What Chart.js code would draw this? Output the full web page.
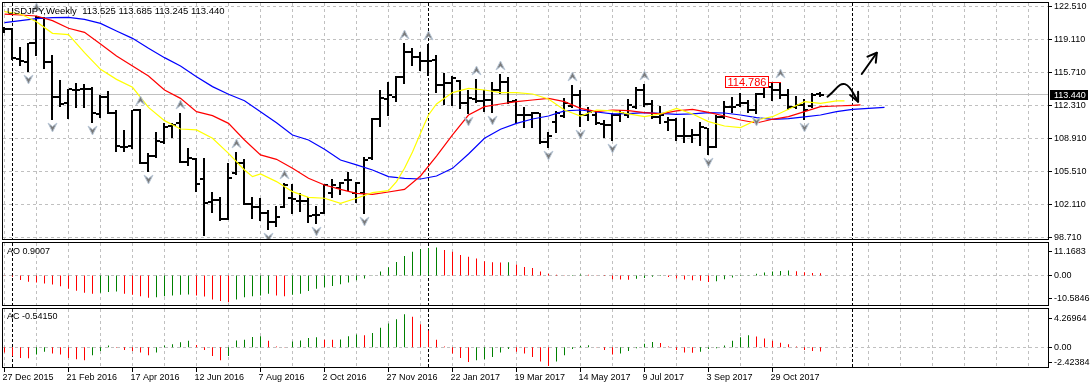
<!DOCTYPE html>
<html>
<head>
<meta charset="utf-8">
<title>USDJPY Weekly</title>
<script src="https://cdn.jsdelivr.net/npm/chart.js@4.4.1/dist/chart.umd.min.js"></script>
<style>
  html, body { margin:0; padding:0; background:#ffffff; }
  #wrap { position:relative; width:1091px; height:383px; overflow:hidden; background:#ffffff; }
  #wrap canvas { position:absolute; left:0; }
</style>
</head>
<body>
<div id="wrap">
  <canvas id="cMain" width="1091" height="243" style="top:0px;width:1091px;height:243px"></canvas>
  <canvas id="cAO" width="1091" height="66" style="top:241px;width:1091px;height:66px"></canvas>
  <canvas id="cAC" width="1091" height="76" style="top:307px;width:1091px;height:76px"></canvas>
</div>
<script>
// ---------------- DATA ----------------
const symbolName = 'USDJPY';
const periodName = 'Weekly';

const dateLabels = ['27 Dec 2015','21 Feb 2016','17 Apr 2016','12 Jun 2016','7 Aug 2016','2 Oct 2016',
  '27 Nov 2016','22 Jan 2017','19 Mar 2017','14 May 2017','9 Jul 2017','3 Sep 2017','29 Oct 2017'];
const dateTickIdx = [0,8,16,24,32,40,48,56,64,72,80,88,96];

const priceTicks = [98.71,102.11,105.51,108.91,112.31,115.71,119.11,122.51];

const opens = [
  120.17,120.17,117.08,116.84,118.73,121.31,116.84,113.23,112.54,113.91,
  113.98,113.98,111.44,113.16,111.57,108.07,108.14,111.85,106.35,107.10,
  108.58,110.20,110.47,106.52,106.76,104.73,102.39,102.56,100.64,105.32,
  106.35,102.15,101.81,101.19,100.33,101.88,102.74,102.50,102.46,101.02,
  101.26,103.25,103.77,104.63,103.25,103.25,106.86,110.92,112.95,113.23,
  115.29,117.87,117.28,116.94,117.01,114.43,114.60,114.84,112.54,112.95,
  112.81,112.88,113.91,114.77,112.81,111.33,111.33,111.51,108.58,110.65,
  111.23,112.26,113.40,111.33,111.33,110.41,110.30,111.33,111.33,112.12,
  113.91,112.43,111.16,110.65,110.82,109.17,109.17,109.27,109.96,108.07,
  111.09,112.12,112.37,112.54,111.85,113.50,114.26,113.91,113.40,112.19,
  112.37,112.26,113.525];
const highs = [
  120.45,120.28,118.38,118.80,121.55,121.48,117.52,114.94,113.98,114.60,
  114.53,114.19,113.40,113.81,111.85,109.79,111.85,111.92,107.45,109.55,
  110.54,110.54,111.51,107.89,106.86,106.86,103.42,102.84,106.35,107.55,
  106.76,102.84,102.77,101.53,101.98,104.35,104.21,103.32,102.84,101.95,
  104.18,104.70,104.39,105.49,104.46,107.03,110.99,113.91,114.77,115.36,
  118.73,118.21,117.87,118.66,117.52,115.70,115.36,114.94,113.91,115.08,
  113.91,114.77,115.56,115.22,112.95,112.12,111.68,111.57,109.61,111.78,
  113.05,114.43,113.91,112.19,111.68,110.82,111.51,111.85,112.98,114.19,
  114.53,112.88,112.26,111.16,110.99,110.99,109.86,110.65,109.99,111.33,
  112.81,113.23,113.57,112.88,113.57,114.77,114.60,114.786,113.98,113.29,
  112.95,113.57,113.685];
const lows = [
  119.90,117.15,116.49,115.91,117.52,116.15,110.92,112.26,111.06,112.12,
  112.12,110.65,111.16,111.57,107.65,107.65,107.89,106.35,105.59,107.03,
  108.48,109.10,106.52,106.18,103.53,98.95,101.36,100.50,100.60,105.25,
  102.15,100.67,100.50,99.54,99.88,101.81,101.19,101.46,100.26,100.16,
  101.20,102.91,103.18,103.60,102.39,101.19,106.76,110.20,111.33,112.81,
  114.67,116.49,115.98,115.46,113.74,112.47,112.37,112.02,111.57,112.71,
  111.75,111.68,113.57,112.61,110.54,110.13,110.13,108.48,108.07,109.61,
  111.16,112.19,110.20,110.82,110.41,109.10,108.75,110.75,111.09,112.02,
  112.26,110.99,110.54,109.79,108.75,108.58,108.58,108.24,107.31,108.02,
  110.99,111.68,112.26,111.68,111.51,113.23,112.88,113.05,111.92,112.02,
  110.89,112.19,113.245];
const closes = [
  120.17,117.18,116.90,118.73,121.31,116.84,113.16,112.47,113.98,113.91,
  113.98,111.51,113.16,111.57,108.14,108.07,111.85,106.35,107.10,108.69,
  110.13,110.30,106.52,106.86,104.21,102.29,102.56,100.57,104.80,106.35,
  102.15,101.81,101.19,100.33,100.84,104.11,102.63,102.46,100.91,101.02,
  104.11,104.11,104.35,104.63,104.35,106.69,110.92,113.05,113.40,115.29,
  117.87,117.28,116.94,116.94,114.43,114.67,115.12,112.54,113.05,112.78,
  112.88,113.91,114.77,112.64,111.33,111.33,111.51,108.58,109.17,111.51,
  112.54,113.40,111.33,111.68,110.47,110.30,111.33,111.51,112.37,113.91,
  112.47,111.16,111.33,110.82,109.17,109.17,109.27,110.06,108.07,111.16,
  112.12,112.12,112.54,111.85,113.47,114.19,113.91,113.40,112.19,112.37,
  111.85,113.40,113.44];

const lipsIdx = [0,2,4,6,8,10,12,14,16,18,20,22,24,26,28,30,31,32,34,36,38,40,42,44,46,48,49,50,51,52,53,54,
  56,58,60,62,64,66,68,70,72,74,76,78,80,82,84,86,88,90,92,94,96,98,100,102,104,105];
const lipsVal = [121.99,121.75,120.96,119.76,119.62,117.76,116.04,115.01,114.19,112.12,110.75,109.89,109.79,108.93,
  107.38,105.66,104.97,105.25,104.46,103.42,102.84,102.74,102.22,102.74,103.32,103.53,104.46,105.83,107.52,109.44,
  111.33,112.47,113.64,114.08,113.91,113.64,113.64,113.50,112.98,111.85,111.23,111.85,111.75,111.44,111.16,111.44,
  112.02,111.44,110.65,110.20,110.03,110.82,111.16,111.92,112.71,112.54,112.78,112.78];
const teethIdx = [0,2,4,6,8,10,12,14,16,18,20,22,24,26,28,30,32,34,36,38,40,42,44,46,48,50,52,54,56,58,
  60,62,64,66,68,70,72,74,76,78,80,82,84,86,88,90,92,94,96,98,100,102,104,106,107];
const teethVal = [121.75,121.65,121.55,121.07,120.28,119.86,118.66,117.42,116.39,115.36,
  113.91,113.05,111.68,111.27,110.47,108.75,107.21,106.76,105.83,104.80,
  104.11,103.66,103.25,103.15,103.39,103.66,105.04,107.10,109.27,111.33,
  112.19,112.47,112.71,112.88,113.05,112.71,112.02,111.68,111.85,111.78,
  111.57,111.44,111.75,111.92,111.61,111.23,110.82,110.51,110.89,111.16,
  111.68,112.19,112.26,112.33,112.37];
const jawIdx = [0,2,4,6,8,10,12,14,16,18,20,22,24,26,28,30,32,34,36,38,40,42,44,46,48,50,52,54,56,58,
  60,62,64,66,68,70,72,74,76,78,80,82,84,86,88,90,92,94,96,98,100,102,104,106,108,110];
const jawVal = [120.86,121.07,121.27,121.38,121.41,121.20,120.79,120.00,119.24,118.21,
  117.25,116.39,115.29,114.26,113.47,112.81,111.68,110.54,109.27,108.75,
  107.79,106.69,106.18,105.66,104.97,104.80,104.73,105.04,105.83,107.31,
  108.93,109.86,110.47,110.92,111.23,111.75,111.85,111.64,111.44,111.47,
  111.57,111.51,111.40,111.44,111.57,111.54,111.33,111.06,110.89,110.96,
  111.13,111.33,111.68,111.92,112.02,112.12];

const upFractalIdx = [4,17,22,29,35,50,53,59,62,71,80,97];
const downFractalIdx = [3,6,11,18,25,33,39,45,58,61,68,72,76,88,94,100];
const separatorIdx = [1,53,106];
const markedHighIdx = 97;

const aoValues = [
  -0.10,-0.41,-1.77,-2.45,-2.72,-3.13,-3.54,-4.22,-5.18,-5.99,
  -6.81,-7.22,-6.81,-6.54,-6.30,-7.20,-7.60,-8.20,-8.80,-8.60,
  -8.20,-7.90,-7.60,-7.50,-7.90,-8.30,-9.50,-10.10,-10.5846,-9.50,
  -8.60,-8.20,-7.90,-7.20,-7.90,-8.20,-7.60,-7.20,-6.10,-5.20,
  -4.60,-4.10,-3.40,-2.70,-1.80,-1.10,0.10,1.60,3.30,5.40,
  7.80,9.40,10.50,10.90,11.1683,10.10,9.40,8.20,7.50,6.80,
  5.70,5.30,5.20,5.30,4.40,3.40,3.00,1.60,0.70,0.30,
  0.10,0.20,0.40,0.30,0.10,-0.20,-1.40,-1.50,-1.60,-1.20,
  -0.90,-0.50,-0.20,-0.60,-1.10,-1.50,-1.80,-2.00,-2.50,-2.20,
  -1.40,-0.80,-0.20,0.10,0.70,1.20,1.60,1.80,2.00,1.70,
  1.30,1.00,0.9007];
const acValues = [
  -0.66,-1.11,-1.37,-1.42,-0.93,-0.58,-0.80,-0.93,-1.37,-1.55,
  -1.68,-1.02,-0.49,0.22,-0.05,-0.35,-0.49,-0.66,-1.02,-0.66,
  0.22,0.40,0.66,0.84,0.31,-0.35,-1.11,-1.68,-1.11,0.89,
  0.97,1.33,1.42,0.84,0.09,-0.04,0.75,0.89,1.20,1.29,
  0.97,0.96,1.00,1.42,1.64,1.55,1.86,2.53,3.06,3.63,
  4.26964,3.94,2.97,2.17,0.98,0.09,-0.80,-1.37,-1.90,-1.68,
  -1.55,-1.24,-0.66,-0.22,-0.58,-0.80,-1.24,-1.82,-2.42384,-1.84,
  -1.03,-0.22,0.18,0.27,-0.04,-0.36,-0.94,-0.81,-0.49,-0.13,
  0.45,0.67,0.54,0.09,-0.36,-0.67,-0.70,-0.58,-0.22,-0.13,
  0.22,0.85,1.30,1.57,1.39,1.12,0.85,0.58,0.40,0.09,
  -0.36,-0.49,-0.5415];

// hand-drawn annotation strokes, in (bar index, price) units
const curveArrow = [[102.87,113.22],[103.50,113.64],[104.12,114.26],[104.75,114.60],[105.37,114.43],[105.87,113.91],[106.29,113.29],[106.70,112.71]];
const curveArrowHead = [[105.70,113.40],[106.70,112.71],[106.70,113.74]];
const straightArrow = [[107.16,115.56],[109.04,117.76]];
const straightArrowHead = [[107.87,117.35],[109.04,117.76],[108.91,116.73]];

// ---------------- LAYOUT / STYLE ----------------
const X_MIN = -0.3125, X_MAX = 130.5625;
const GRID_STEP = 4;
const AXIS_W = 42;
const FONT = "9px 'Liberation Sans', Arial, sans-serif";
const TITLE_FONT = "9.5px 'Liberation Sans', Arial, sans-serif";
const C_GRID = '#c0c0c0', C_UP = '#008000', C_DOWN = '#ff0000';

Chart.defaults.font.family = "'Liberation Sans', Arial, sans-serif";
Chart.defaults.font.size = 9;
Chart.defaults.color = '#000000';
Chart.defaults.animation = false;

function crisp(v){ return Math.floor(v) + 0.5; }

function clipArea(chart){
  const a = chart.chartArea, c = chart.ctx;
  c.beginPath(); c.rect(a.left, a.top, a.right - a.left, a.bottom - a.top); c.clip();
}
function vGrid(chart){
  const c = chart.ctx, a = chart.chartArea, xs = chart.scales.x;
  c.save(); c.strokeStyle = C_GRID; c.lineWidth = 1; c.setLineDash([3,3]);
  for (let k = 0; k <= X_MAX; k += GRID_STEP){
    const x = crisp(xs.getPixelForValue(k));
    if (x <= a.left + 1 || x >= a.right - 1) continue;
    c.beginPath(); c.moveTo(x, a.top + 1); c.lineTo(x, a.bottom - 1); c.stroke();
  }
  c.restore();
}
function hGrid(chart, vals){
  const c = chart.ctx, a = chart.chartArea, ys = chart.scales.y;
  c.save(); c.strokeStyle = C_GRID; c.lineWidth = 1; c.setLineDash([3,3]);
  vals.forEach(v => {
    const y = crisp(ys.getPixelForValue(v));
    if (y <= a.top + 1 || y >= a.bottom - 1) return;
    c.beginPath(); c.moveTo(a.left + 1, y); c.lineTo(a.right - 1, y); c.stroke();
  });
  c.restore();
}
function separators(chart){
  const c = chart.ctx, a = chart.chartArea, xs = chart.scales.x;
  c.save(); c.strokeStyle = '#000'; c.lineWidth = 1; c.setLineDash([3,2]);
  separatorIdx.forEach(k => {
    const x = crisp(xs.getPixelForValue(k));
    c.beginPath(); c.moveTo(x, a.top + 1); c.lineTo(x, a.bottom - 1); c.stroke();
  });
  c.restore();
}
function frame(chart){
  const c = chart.ctx, a = chart.chartArea;
  c.save(); c.strokeStyle = '#000'; c.lineWidth = 1; c.setLineDash([]);
  c.strokeRect(a.left + 0.5, a.top + 0.5, a.right - a.left - 1, a.bottom - a.top - 1);
  c.restore();
}
function strokePts(c, pts, xs, ys, smooth){
  const p = pts.map(q => [xs.getPixelForValue(q[0]), ys.getPixelForValue(q[1])]);
  c.beginPath(); c.moveTo(p[0][0], p[0][1]);
  if (smooth){
    for (let i = 1; i < p.length - 1; i++){
      const mx = (p[i][0] + p[i+1][0]) / 2, my = (p[i][1] + p[i+1][1]) / 2;
      c.quadraticCurveTo(p[i][0], p[i][1], mx, my);
    }
    c.lineTo(p[p.length-1][0], p[p.length-1][1]);
  } else {
    for (let i = 1; i < p.length; i++) c.lineTo(p[i][0], p[i][1]);
  }
  c.stroke();
}
function drawFractal(c, x, yTip, dir){
  const w = 4.5, h = 9, n = 3.5;
  c.beginPath();
  c.moveTo(x, yTip);
  c.lineTo(x + w, yTip - dir * h);
  c.lineTo(x, yTip - dir * (h - n));
  c.lineTo(x - w, yTip - dir * h);
  c.closePath();
  c.fillStyle = '#7a7a7a'; c.fill();
  c.strokeStyle = '#b7c6d6'; c.lineWidth = 1; c.stroke();
}

const hiddenX = () => ({ type:'linear', min:X_MIN, max:X_MAX, display:false, offset:false,
  grid:{display:false, drawTicks:false, offset:false}, border:{display:false} });

function fixY(s){ s.width = AXIS_W; s.paddingTop = 0; s.paddingBottom = 0; }

// ---------------- MAIN PANEL ----------------
const mainPlugin = {
  id: 'mainPanel',
  beforeDatasetsDraw(chart){
    const c = chart.ctx, a = chart.chartArea, xs = chart.scales.x, ys = chart.scales.y;
    c.save(); clipArea(chart);
    vGrid(chart); hGrid(chart, priceTicks);
    const last = closes.length - 1;
    const py = crisp(ys.getPixelForValue(closes[last]));
    c.strokeStyle = C_GRID; c.lineWidth = 1; c.setLineDash([]);
    c.beginPath(); c.moveTo(a.left, py); c.lineTo(a.right, py); c.stroke();
    separators(chart);
    c.fillStyle = '#000';
    for (let i = 0; i < opens.length; i++){
      const cx = Math.floor(xs.getPixelForValue(i));
      const yh = Math.round(ys.getPixelForValue(highs[i]));
      const yl = Math.round(ys.getPixelForValue(lows[i]));
      const yo = Math.round(ys.getPixelForValue(opens[i]));
      const yc = Math.round(ys.getPixelForValue(closes[i]));
      c.fillRect(cx - 1, yh, 2, Math.max(2, yl - yh + 1));
      c.fillRect(cx - 4, yo - 1, 3, 2);
      c.fillRect(cx + 1, yc - 1, 3, 2);
    }
    c.restore();
  },
  afterDatasetsDraw(chart){
    const c = chart.ctx, a = chart.chartArea, xs = chart.scales.x, ys = chart.scales.y;
    c.save(); clipArea(chart);
    upFractalIdx.forEach(k => drawFractal(c, Math.floor(xs.getPixelForValue(k)) + 0.5, Math.round(ys.getPixelForValue(highs[k])) - 13, -1));
    downFractalIdx.forEach(k => drawFractal(c, Math.floor(xs.getPixelForValue(k)) + 0.5, Math.round(ys.getPixelForValue(lows[k])) + 13, 1));

    // marked high label
    const mk = markedHighIdx, mv = highs[mk];
    const mx = Math.floor(xs.getPixelForValue(mk)), my = Math.round(ys.getPixelForValue(mv));
    c.font = "11px 'Liberation Sans', Arial, sans-serif";
    const mt = mv.toFixed(3), mw = Math.ceil(c.measureText(mt).width) + 5;
    const bxR = mx - 11, bxL = bxR - mw;
    c.fillStyle = '#ffffff'; c.fillRect(bxL, my - 6, mw, 12);
    c.strokeStyle = '#ff0000'; c.lineWidth = 1; c.setLineDash([]);
    c.strokeRect(bxL + 0.5, my - 5.5, mw - 1, 11);
    c.beginPath(); c.moveTo(bxR, my + 0.5); c.lineTo(mx + 1, my + 0.5); c.stroke();
    c.fillStyle = '#ff0000'; c.textAlign = 'left'; c.textBaseline = 'middle';
    c.fillText(mt, bxL + 2.5, my + 0.5);

    // hand-drawn arrows
    c.strokeStyle = '#000'; c.lineWidth = 2; c.lineCap = 'round'; c.lineJoin = 'round';
    strokePts(c, curveArrow, xs, ys, true);
    strokePts(c, curveArrowHead, xs, ys, false);
    strokePts(c, straightArrow, xs, ys, false);
    strokePts(c, straightArrowHead, xs, ys, false);
    c.restore();

    frame(chart);

    c.save();
    c.font = TITLE_FONT; c.fillStyle = '#000'; c.textAlign = 'left'; c.textBaseline = 'middle';
    const last = closes.length - 1;
    const title = symbolName + ',' + periodName + '  ' + opens[last].toFixed(3) + ' ' + highs[last].toFixed(3) + ' ' +
      lows[last].toFixed(3) + ' ' + closes[last].toFixed(3);
    c.fillText(title, a.left + 5, a.top + 9);
    c.font = FONT;
    c.strokeStyle = '#000'; c.lineWidth = 1;
    priceTicks.forEach(v => { const y = crisp(ys.getPixelForValue(v)); c.beginPath(); c.moveTo(a.right, y); c.lineTo(a.right + 3, y); c.stroke(); });
    const ty = ys.getPixelForValue(closes[last]);
    c.fillStyle = '#000'; c.fillRect(a.right + 1, Math.round(ty) - 5, 38, 10);
    c.fillStyle = '#fff'; c.fillText(closes[last].toFixed(3), a.right + 5, Math.round(ty) + 0.5);
    c.restore();
  }
};

new Chart(document.getElementById('cMain'), {
  type: 'line',
  data: { datasets: [
    { label:'Lips', data: lipsIdx.map((k,i)=>({x:k, y:lipsVal[i]})), borderColor:'#ffff00', borderWidth:1.2, pointRadius:0, tension:0, fill:false },
    { label:'Teeth', data: teethIdx.map((k,i)=>({x:k, y:teethVal[i]})), borderColor:'#ff0000', borderWidth:1.2, pointRadius:0, tension:0, fill:false },
    { label:'Jaw', data: jawIdx.map((k,i)=>({x:k, y:jawVal[i]})), borderColor:'#0000ff', borderWidth:1.2, pointRadius:0, tension:0, fill:false }
  ]},
  options: {
    responsive:false, maintainAspectRatio:false, devicePixelRatio:1, animation:false, events:[],
    layout:{ padding:{ left:2, right:0, top:2, bottom:3 } },
    plugins:{ legend:{display:false}, tooltip:{enabled:false} },
    scales:{
      x: hiddenX(),
      y: { type:'linear', position:'right', min:98.4345, max:122.992,
        grid:{display:false, drawTicks:false}, border:{display:false},
        afterBuildTicks: s => { s.ticks = priceTicks.map(v => ({value:v})); },
        afterFit: fixY,
        ticks:{ padding:5, color:'#000', autoSkip:false, font:{size:9}, callback: v => Number(v).toFixed(3) } }
    }
  },
  plugins:[mainPlugin]
});

// ---------------- OSCILLATOR PANELS ----------------
function makeSubPlugin(values, name, decimals, titleDy, isBottom){
  return {
    id: 'sub' + name,
    beforeDatasetsDraw(chart){
      const c = chart.ctx;
      c.save(); clipArea(chart);
      vGrid(chart); hGrid(chart, [0]); separators(chart);
      c.restore();
    },
    afterDatasetsDraw(chart){
      frame(chart);
      const c = chart.ctx, a = chart.chartArea, ys = chart.scales.y, xs = chart.scales.x;
      c.save();
      c.font = FONT; c.fillStyle = '#000'; c.textAlign = 'left'; c.textBaseline = 'middle';
      c.fillText(name + ' ' + values[values.length - 1].toFixed(decimals), a.left + 5, a.top + titleDy);
      const vmax = Math.max(...values), vmin = Math.min(...values);
      const labs = [
        [ys.getPixelForValue(vmax) + 4.5, vmax.toFixed(decimals)],
        [ys.getPixelForValue(0), (0).toFixed(2)],
        [ys.getPixelForValue(vmin) - 3.5, vmin.toFixed(decimals)]
      ];
      c.strokeStyle = '#000'; c.lineWidth = 1;
      labs.forEach(l => {
        c.fillText(l[1], a.right + 5, l[0]);
        const y = crisp(l[0]);
        c.beginPath(); c.moveTo(a.right, y); c.lineTo(a.right + 3, y); c.stroke();
      });
      if (isBottom){
        dateTickIdx.forEach(k => {
          const x = crisp(xs.getPixelForValue(k));
          c.beginPath(); c.moveTo(x, a.bottom); c.lineTo(x, a.bottom + 4); c.stroke();
        });
      }
      c.restore();
    }
  };
}

function barColors(values){
  return values.map((v, i) => (i > 0 && v > values[i-1]) ? C_UP : C_DOWN);
}

function subConfig(values, yMin, yMax, plugin, isBottom, padBottom){
  const xScale = isBottom ? {
    type:'linear', min:X_MIN, max:X_MAX, position:'bottom', display:true, offset:false,
    grid:{display:false, drawTicks:false, offset:false}, border:{display:false},
    afterBuildTicks: s => { s.ticks = dateTickIdx.map(v => ({value:v})); },
    afterFit: s => { s.height = 15; s.paddingLeft = 0; s.paddingRight = 0; },
    ticks:{ align:'start', padding:4, labelOffset:-2, maxRotation:0, minRotation:0, autoSkip:false, color:'#000', font:{size:9},
      callback: v => dateLabels[dateTickIdx.indexOf(v)] }
  } : hiddenX();
  return {
    type:'bar',
    data:{ datasets:[{ data: values.map((v,i)=>({x:i, y:v})), backgroundColor: barColors(values),
      barThickness:1, borderWidth:0, inflateAmount:0 }] },
    options:{
      responsive:false, maintainAspectRatio:false, devicePixelRatio:1, animation:false, events:[],
      layout:{ padding:{ left:2, right:0, top:1, bottom:padBottom } },
      plugins:{ legend:{display:false}, tooltip:{enabled:false} },
      scales:{
        x: xScale,
        y: { type:'linear', position:'right', min:yMin, max:yMax, display:true,
          grid:{display:false, drawTicks:false}, border:{display:false},
          ticks:{display:false}, afterFit: fixY }
      }
    },
    plugins:[plugin]
  };
}

new Chart(document.getElementById('cAO'), subConfig(aoValues, -12.04, 13.31, makeSubPlugin(aoValues, 'AO', 4, 10, false), false, 1));
new Chart(document.getElementById('cAC'), subConfig(acValues, -2.67, 5.07, makeSubPlugin(acValues, 'AC', 5, 9, true), true, 0));
</script>
</body>
</html>
